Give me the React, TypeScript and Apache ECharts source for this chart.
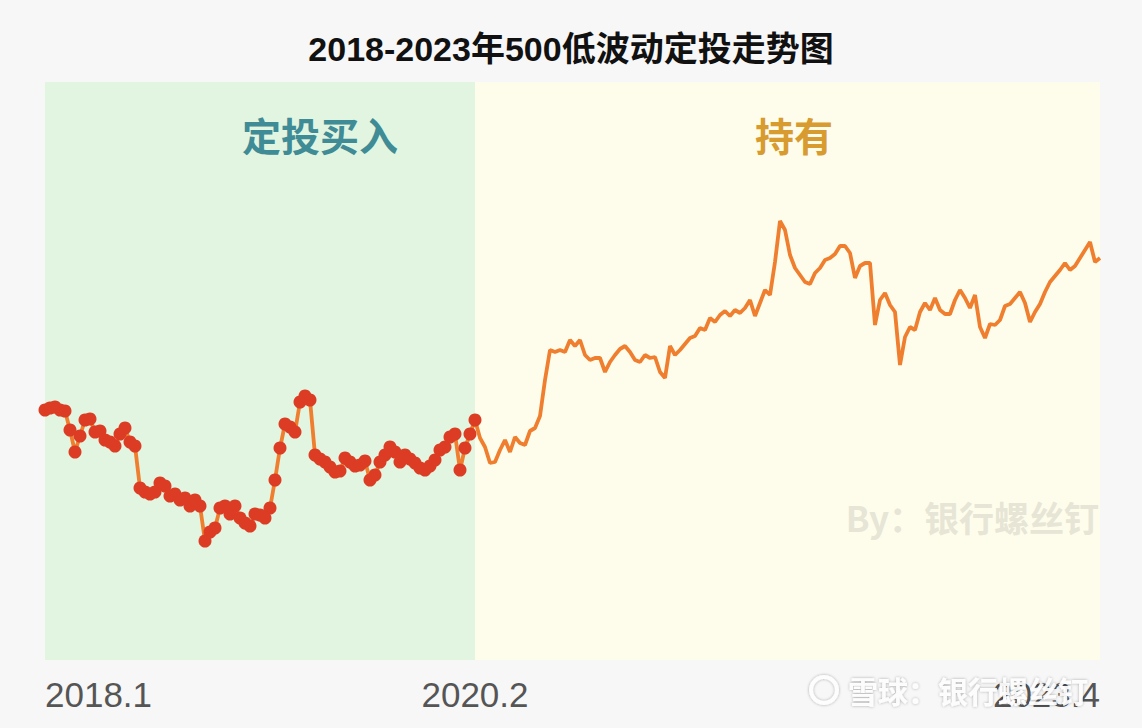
import React, { useEffect, useRef } from "react";
import * as echarts from "echarts";

// Weekly-ish samples of the DCA index level
const buyValues = [
  250, 252, 253, 250, 249, 230, 208, 224, 240, 241,
  228, 229, 220, 218, 214, 226, 232, 218, 214, 172,
  168, 166, 168, 177, 174, 164, 166, 160, 162, 154,
  160, 154, 119, 128, 132, 152, 154, 146, 154, 142,
  137, 134, 146, 145, 142, 152, 180, 212, 236, 233,
  228, 258, 264, 260, 205, 201, 198, 193, 188, 189,
  202, 198, 194, 195, 199, 180, 185, 198, 205, 213,
  208, 198, 205, 201, 197, 192, 190, 194, 200, 210,
  213, 223, 226, 190, 212, 226, 240,
];

const holdValues = [
  222, 213, 197, 198, 210, 220, 208, 223, 217, 215,
  229, 232, 244, 280, 310, 308, 310, 308, 320, 314,
  320, 305, 300, 302, 302, 288, 298, 305, 311, 314,
  308, 300, 298, 305, 302, 303, 288, 282, 314, 305,
  310, 316, 322, 324, 332, 330, 342, 338, 345, 349,
  344, 350, 347, 352, 360, 344, 357, 370, 365, 398,
  439, 430, 405, 392, 385, 378, 376, 387, 392, 400,
  402, 406, 414, 414, 407, 382, 394, 397, 397, 335,
  360, 367, 355, 348, 295, 323, 333, 330, 348, 357,
  350, 362, 350, 346, 346, 360, 370, 362, 352, 365,
  333, 322, 336, 335, 340, 354, 356, 362, 368, 357,
  338, 348, 356, 368, 378, 384, 390, 397, 390, 394,
  402, 410, 418, 398, 402,
];

const tickLabels = ["2018.1", "2020.2", "2023.4"];
const phaseNames = ["定投买入", "持有"];
const title = "2018-2023年500低波动定投走势图";

export default function App() {
  const ref = useRef<HTMLDivElement>(null);

  useEffect(() => {
    if (!ref.current) return;
    const chart = echarts.init(ref.current, undefined, { renderer: "svg" });
    const allValues = [...buyValues, ...holdValues];
    const categories = allValues.map((_, i) => String(i));
    const lastIdx = allValues.length - 1;
    const splitIdx = buyValues.length - 1;
    const tickIdx = [0, splitIdx, lastIdx];
    const cjk = '"Noto Sans CJK SC", sans-serif';
    const latin = '"Liberation Sans", "Noto Sans CJK SC", sans-serif';

    const txt = (x: number, y: number, text: string, fill: string, font: string, align: string) => ({
      type: "text",
      x,
      y,
      z: 100,
      zlevel: 0,
      style: {
        text,
        fill,
        font,
        align,
        verticalAlign: "middle",
        textAlign: align,
        textVerticalAlign: "middle",
      },
    });

    chart.setOption({
      animation: false,
      backgroundColor: "#f7f7f7",
      title: {
        text: title,
        left: "center",
        top: 27,
        textStyle: { fontSize: 34, fontWeight: "bold", color: "#111", fontFamily: latin },
      },
      grid: { left: 45, right: 42, top: 82, bottom: 68 },
      xAxis: {
        type: "category",
        data: categories,
        boundaryGap: false,
        axisLine: { show: false },
        axisTick: { show: false },
        splitLine: { show: false },
        axisLabel: {
          interval: (i: number) => tickIdx.includes(i),
          formatter: (_v: string, i: number) => {
            const k = tickIdx.indexOf(i);
            return k >= 0 ? tickLabels[k] : "";
          },
          showMinLabel: true,
          showMaxLabel: true,
          alignMinLabel: "left",
          alignMaxLabel: "right",
          fontSize: 35,
          color: "#555",
          fontFamily: latin,
          margin: 17,
        },
      },
      yAxis: { type: "value", min: 0, max: 578, show: false },
      series: [
        {
          type: "line",
          data: allValues,
          showSymbol: false,
          lineStyle: { color: "#ef7e2f", width: 3.8 },
          itemStyle: { color: "#ef7e2f" },
          markArea: {
            silent: true,
            data: [
              [{ xAxis: String(0), itemStyle: { color: "#e2f5e0" } }, { xAxis: String(splitIdx) }],
              [{ xAxis: String(splitIdx), itemStyle: { color: "#fefdec" } }, { xAxis: String(lastIdx) }],
            ],
          },
        },
        {
          type: "scatter",
          data: buyValues,
          symbolSize: 13,
          itemStyle: { color: "#dd3c24", opacity: 1 },
          z: 3,
        },
      ],
      graphic: [
        txt(320, 134, phaseNames[0], "#3f8b96", `bold 39px ${cjk}`, "center"),
        txt(794, 134, phaseNames[1], "#d89b30", `bold 39px ${cjk}`, "center"),
        txt(1099, 516, "By：银行螺丝钉", "#e7e5d5", `bold 35px ${cjk}`, "right"),
        {
          type: "ring",
          z: 100,
          shape: { cx: 824, cy: 690, r: 15, r0: 11 },
          style: { fill: "rgba(255,255,255,0.95)", shadowBlur: 3, shadowColor: "rgba(0,0,0,0.35)" },
        },
        {
          type: "text",
          x: 848,
          y: 690,
          z: 100,
          style: {
            text: "雪球：银行螺丝钉",
            fill: "rgba(255,255,255,0.92)",
            font: `bold 30px ${cjk}`,
            align: "left",
            verticalAlign: "middle",
            textAlign: "left",
            textVerticalAlign: "middle",
            textShadowBlur: 3,
            textShadowColor: "rgba(0,0,0,0.35)",
          },
        },
      ],
    });

    return () => chart.dispose();
  }, []);

  return (
    <div
      ref={ref}
      style={{ position: "fixed", left: 0, top: 0, width: 1142, height: 728, background: "#f7f7f7" }}
    />
  );
}
